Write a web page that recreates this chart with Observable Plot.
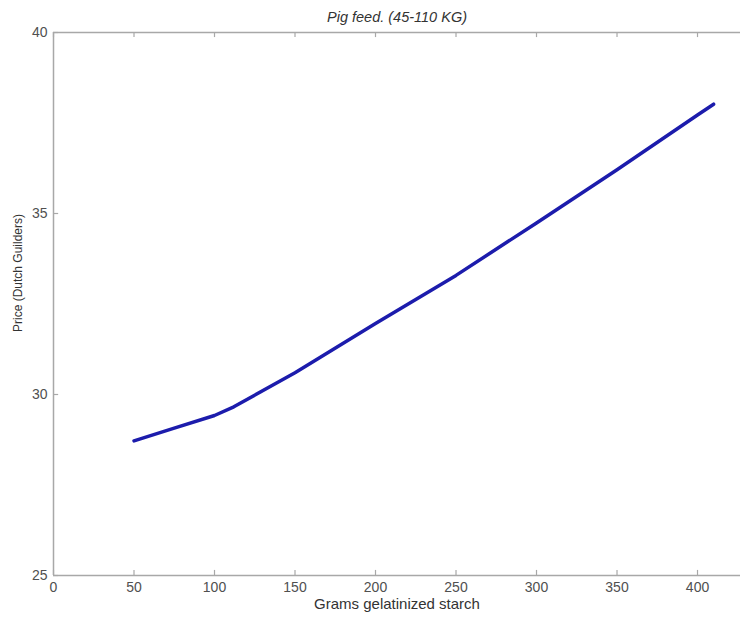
<!DOCTYPE html>
<html>
<head>
<meta charset="utf-8">
<script src="https://cdn.jsdelivr.net/npm/d3@7"></script>
<script src="https://cdn.jsdelivr.net/npm/@observablehq/plot@0.6"></script>
<style>
  html, body { margin: 0; padding: 0; background: #fff; overflow: hidden; }
  svg { display: block; }
</style>
</head>
<body>
<div id="chart"></div>
<script>
const title = "Pig feed. (45-110 KG)";
const xLabel = "Grams gelatinized starch";
const yLabel = "Price (Dutch Guilders)";

const starch = [50, 75, 100, 112, 150, 200, 250, 300, 350, 400, 410];
const price  = [28.72, 29.07, 29.42, 29.66, 30.60, 31.96, 33.29, 34.74, 36.21, 37.72, 38.02];

const xTicks = [0, 50, 100, 150, 200, 250, 300, 350, 400];
const yTicks = [25, 30, 35, 40];

const data = starch.map((s, i) => ({starch: s, price: price[i]}));

const axisColor = "#a8a8a8";
const textColor = "#505050";

const chart = Plot.plot({
  width: 740,
  height: 622,
  marginLeft: 53,
  marginRight: 0,
  marginTop: 32,
  marginBottom: 47,
  style: {fontFamily: "Liberation Sans, Arial, sans-serif", fontSize: "12px", background: "#fff"},
  x: {domain: [0, 426.7], axis: null},
  y: {domain: [25, 40], axis: null},
  marks: [
    // frame lines (left, top, bottom)
    Plot.ruleX([0], {stroke: axisColor, strokeWidth: 1.5}),
    Plot.ruleY([25, 40], {stroke: axisColor, strokeWidth: 1.5}),
    // inward ticks
    Plot.ruleX(xTicks, {y1: 25, y2: 25.14, stroke: axisColor, strokeWidth: 1.2}),
    Plot.ruleX(xTicks, {y1: 40, y2: 39.86, stroke: axisColor, strokeWidth: 1.2}),
    Plot.ruleY(yTicks, {x1: 0, x2: 3.2, stroke: axisColor, strokeWidth: 1.2}),
    // tick labels
    Plot.axisX({ticks: xTicks, tickSize: 0, tickPadding: 7, label: null, color: textColor, fontSize: 14}),
    Plot.axisY({ticks: yTicks, tickSize: 0, tickPadding: 6, label: null, color: textColor, fontSize: 14}),
    // data line
    Plot.line(data, {x: "starch", y: "price", stroke: "#1c1cac", strokeWidth: 3.5, strokeLinecap: "round", strokeLinejoin: "round"}),
    // title and axis labels
    Plot.text([title], {frameAnchor: "top", dy: -21, fontStyle: "italic", fontSize: 14.5, fill: "#333"}),
    Plot.text([xLabel], {frameAnchor: "bottom", dy: 33, fontSize: 15, fill: "#333"}),
    Plot.text([yLabel], {frameAnchor: "left", textAnchor: "middle", dx: -35, dy: -31, rotate: -90, fontSize: 12, fill: "#333"})
  ]
});
document.getElementById("chart").appendChild(chart);
</script>
</body>
</html>
